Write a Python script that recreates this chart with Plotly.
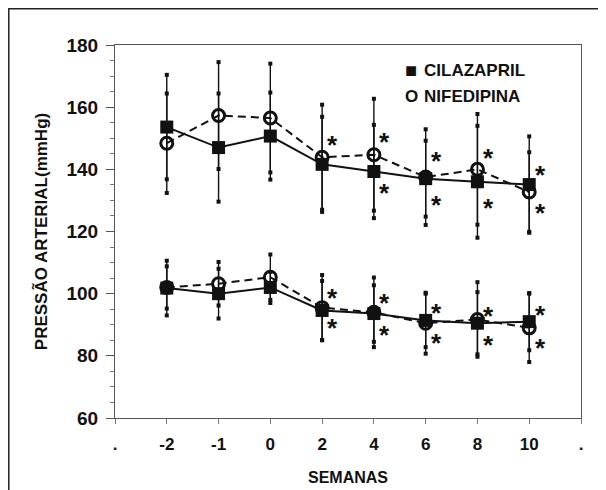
import plotly.graph_objects as go

# ---------------- data ----------------
semanas = ["-2", "-1", "0", "2", "4", "6", "8", "10"]
tick_labels = [".", "-2", "-1", "0", "2", "4", "6", "8", "10", "."]
y_ticks = [60, 80, 100, 120, 140, 160, 180]

# systolic (upper group)
cil_sist = [153.6, 147.0, 150.7, 141.6, 139.3, 137.0, 136.0, 135.1]
cil_sist_dp = [16.8, 17.4, 14.0, 15.3, 15.0, 12.2, 18.0, 15.5]
nif_sist = [148.4, 157.3, 156.5, 143.9, 144.7, 137.5, 140.0, 132.7]
nif_sist_dp = [16.0, 17.2, 17.5, 16.9, 18.0, 15.4, 17.8, 12.8]

# diastolic (lower group)
cil_diast = [101.8, 100.0, 102.0, 94.6, 93.6, 91.4, 90.5, 91.0]
cil_diast_dp = [8.8, 8.0, 5.0, 9.5, 9.1, 8.6, 10.0, 9.2]
nif_diast = [102.0, 103.2, 105.3, 95.5, 94.0, 90.5, 91.7, 89.0]
nif_diast_dp = [6.8, 7.0, 7.3, 10.5, 11.2, 9.8, 12.0, 11.0]

# significance asterisks
ast_semanas = ["2", "4", "6", "8", "10"]
ast_sist_acima = [149.8, 150.6, 144.5, 145.5, 140.0]
ast_sist_abaixo = [None, 134.3, 130.5, 129.5, 127.9]
ast_diast_acima = [100.5, 98.9, 95.7, 94.9, 95.2]
ast_diast_abaixo = [90.9, 88.5, 85.9, 85.5, 84.4]

legend_symbols = ["■", "O"]
legend_labels = ["CILAZAPRIL", "NIFEDIPINA"]

# ---------------- figure ----------------
FONT = "Liberation Sans, Arial, Helvetica, sans-serif"
pos = {s: tick_labels.index(s) for s in semanas}
x = [pos[s] for s in semanas]

# page has an 8px body margin; plot area on the page: x 115..581, y 45..418
PL, PR, PT, PB = 115, 581, 45, 418
OFF = 8


def px(xp):
    return (xp - PL) / (PR - PL)


def py(yp):
    return 1 - (yp - PT) / (PB - PT)


fig = go.Figure()


def add_group(vals, dps, symbol, dash):
    fig.add_trace(go.Scatter(
        x=x, y=vals, mode="none",
        error_y=dict(type="data", array=dps, visible=True, width=0,
                     thickness=1.4, color="#111"),
        hoverinfo="skip"))
    ends_x = x + x
    ends_y = [v + d for v, d in zip(vals, dps)] + [v - d for v, d in zip(vals, dps)]
    fig.add_trace(go.Scatter(
        x=ends_x, y=ends_y, mode="markers",
        marker=dict(symbol="square", size=4, color="#111"),
        hoverinfo="skip"))
    if symbol == "square":
        marker = dict(symbol="square", size=13, color="#111")
    else:
        marker = dict(symbol="circle-open", size=12, color="#111",
                      line=dict(width=3, color="#111"))
    fig.add_trace(go.Scatter(
        x=x, y=vals, mode="lines+markers",
        line=dict(color="#111", width=2, dash=dash),
        marker=marker))


add_group(nif_sist, nif_sist_dp, "circle", "8px,5px")
add_group(cil_sist, cil_sist_dp, "square", "solid")
add_group(nif_diast, nif_diast_dp, "circle", "8px,5px")
add_group(cil_diast, cil_diast_dp, "square", "solid")

annotations = []
for serie in (ast_sist_acima, ast_sist_abaixo, ast_diast_acima, ast_diast_abaixo):
    for s, yv in zip(ast_semanas, serie):
        if yv is None:
            continue
        annotations.append(dict(
            x=pos[s] + 0.21, y=yv, xref="x", yref="y", text="*",
            showarrow=False, yshift=-6,
            font=dict(family=FONT, size=26, color="#111", weight="bold")))

# legend as text
for i, (sym, lab) in enumerate(zip(legend_symbols, legend_labels)):
    yc = 70 + 26 * i
    annotations.append(dict(
        x=px(411), y=py(yc), xref="paper", yref="paper",
        xanchor="center", yanchor="middle",
        text=f"<b>{sym}</b>", showarrow=False,
        font=dict(family=FONT, size=(20 if sym == "■" else 17), color="#111")))
    annotations.append(dict(
        x=px(422), y=py(yc), xref="paper", yref="paper",
        xanchor="left", yanchor="middle",
        text=f"<b>{lab}</b>", showarrow=False,
        font=dict(family=FONT, size=17, color="#111")))

W, H = 606 - OFF, 490 - OFF
fig.update_layout(
    width=W, height=H, autosize=False,
    margin=dict(l=PL - OFF, r=W - (PR - OFF), t=PT - OFF, b=H - (PB - OFF)),
    paper_bgcolor="white", plot_bgcolor="white",
    showlegend=False,
    font=dict(family=FONT, color="#111"),
    annotations=annotations,
    shapes=[dict(type="rect", xref="paper", yref="paper",
                 x0=px(OFF + 0.8), x1=1.3,
                 y0=-0.4, y1=py(OFF + 0.8),
                 line=dict(color="#222", width=1.5), layer="below")],
)

fig.update_xaxes(
    range=[0, 9], tickmode="array", automargin=False,
    tickvals=list(range(len(tick_labels))), ticktext=tick_labels,
    showgrid=False, zeroline=False,
    showline=True, linecolor="#555", linewidth=1, mirror=True,
    ticks="outside", ticklen=5, tickcolor="#777", tickwidth=1,
    ticklabelstandoff=6,
    tickfont=dict(family=FONT, size=17, color="#111", weight="bold"),
    title=dict(text="<b>SEMANAS</b>", standoff=18,
               font=dict(family=FONT, size=16, color="#111")),
)
fig.update_yaxes(
    range=[60, 180], tickmode="array", tickvals=y_ticks, automargin=False,
    showgrid=False, zeroline=False,
    showline=True, linecolor="#555", linewidth=1, mirror=True,
    ticks="outside", ticklen=8, tickcolor="#555", tickwidth=1,
    ticklabelstandoff=4,
    minor=dict(dtick=5, ticks="outside", ticklen=4, tickcolor="#777"),
    tickfont=dict(family=FONT, size=19, color="#111", weight="bold"),
    title=dict(text="<b>PRESSÃO ARTERIAL(mmHg)</b>", standoff=14,
               font=dict(family=FONT, size=17, color="#111")),
)

fig.write_html("out.html")
